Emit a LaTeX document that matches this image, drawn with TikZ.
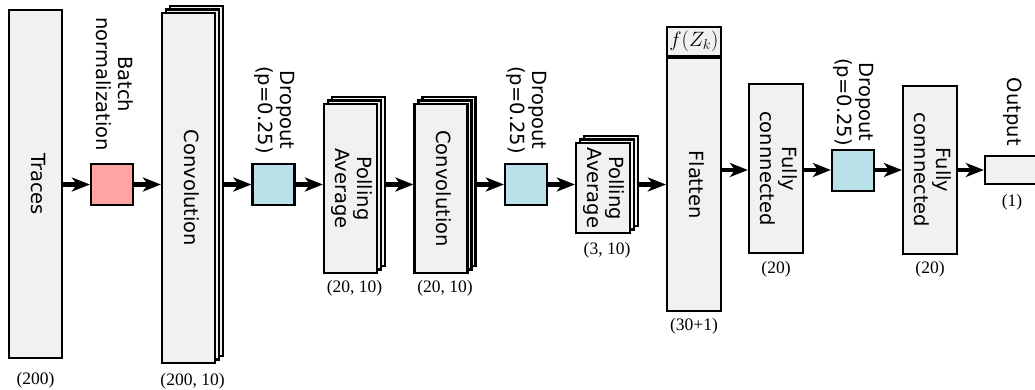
\documentclass[tikz,border=0pt]{standalone}
\usepackage{fontspec}
\setsansfont{DejaVu Sans}
\newfontfamily\dimfont{Liberation Serif}
\usetikzlibrary{positioning,arrows.meta,shadows}
\definecolor{boxgray}{RGB}{241,241,241}
\definecolor{bnpink}{RGB}{255,163,163}
\definecolor{dropblue}{RGB}{185,226,232}
\newcommand{\vtext}[1]{\rotatebox{-90}{\begin{tabular}{@{}c@{}}#1\end{tabular}}}
\tikzset{
  layer/.style={draw, line width=2.2pt, fill=boxgray, inner sep=0pt,
    font=\sffamily\fontsize{19.5}{22}\selectfont},
  every shadow/.style={draw=black, fill=boxgray, line width=2.2pt, opacity=1},
  stack/.style={layer,
    copy shadow={shadow xshift=8pt,shadow yshift=7pt},
    copy shadow={shadow xshift=4pt,shadow yshift=3.5pt}},
  square/.style={layer, minimum width=42pt, minimum height=41pt},
  toplbl/.style={inner sep=0pt, font=\sffamily\fontsize{19.5}{22}\selectfont},
  dimlbl/.style={inner sep=0pt, font=\dimfont\fontsize{17.5}{20}\selectfont},
  arr/.style={line width=4.5pt, -{Stealth[length=18pt,width=14pt,inset=5pt]}},
}
\begin{document}
\begin{tikzpicture}[x=1pt,y=-1pt]
\useasboundingbox (0,0) rectangle (1035,390);
\coordinate (row1) at (0,184.5);
\coordinate (row2) at (0,170);
% layers
\node[layer, minimum width=53pt, minimum height=348pt] (trace) at (35.5,184) {\vtext{Traces}};
\node[square, fill=bnpink] (bn) at (112,184.5) {};
\node[stack, minimum width=53pt, minimum height=350pt] (conv1) at (188.5,188) {\vtext{Convolution}};
\node[square, fill=dropblue] (drop1) at (273.5,184.5) {};
\node[stack, minimum width=53pt, minimum height=169pt] (pool1) at (350.5,188.5) {\vtext{Polling\\Average}};
\node[stack, minimum width=53pt, minimum height=169pt] (conv2) at (441,188.5) {\vtext{Convolution}};
\node[square, fill=dropblue] (drop2) at (526,184.5) {};
\node[stack, minimum width=54pt, minimum height=90pt] (pool2) at (603,188) {\vtext{Polling\\Average}};
\node[layer, minimum width=54pt, minimum height=253pt] (flat) at (694,184.5) {\vtext{Flatten}};
\node[layer, minimum width=54pt, minimum height=29pt, anchor=south] (fz) at (flat.north) {$f(Z_k)$};
\node[layer, minimum width=54pt, minimum height=169pt] (fc1) at (776,168.5) {\vtext{Fully\\connnected}};
\node[square, fill=dropblue] (drop3) at (853,170.5) {};
\node[layer, minimum width=54pt, minimum height=168pt] (fc2) at (930,170) {\vtext{Fully\\connnected}};
\node[layer, minimum width=54pt, minimum height=28pt] (out) at (1012,170) {};
% labels above
\node[toplbl, above=12pt of bn] (bnlbl) {\vtext{Batch\\normalization}};
\node[toplbl, above=9pt of drop1] (drop1lbl) {\vtext{Dropout\\(p=0.25)}};
\node[toplbl, above=9pt of drop2] (drop2lbl) {\vtext{Dropout\\(p=0.25)}};
\node[toplbl, above=3pt of drop3] (drop3lbl) {\vtext{Dropout\\(p=0.25)}};
\node[toplbl, above=9pt of out] (outlbl) {\vtext{Output}};
% sizes
\node[dimlbl, below=13pt of trace] (tracedim) {(200)};
\node[dimlbl, below=9pt of conv1, xshift=4pt] (conv1dim) {(200, 10)};
\node[dimlbl, below=6pt of pool1, xshift=4pt] (pool1dim) {(20, 10)};
\node[dimlbl, below=6pt of conv2, xshift=4pt] (conv2dim) {(20, 10)};
\node[dimlbl, below=8pt of pool2, xshift=4pt] (pool2dim) {(3, 10)};
\node[dimlbl, below=6pt of flat] (flatdim) {(30+1)};
\node[dimlbl, below=7pt of fc1] (fc1dim) {(20)};
\node[dimlbl, below=6pt of fc2] (fc2dim) {(20)};
\node[dimlbl, below=9pt of out] (outdim) {(1)};
% connectors
\draw[arr] (trace.east |- row1) -- (bn.west |- row1);
\draw[arr] (bn.east |- row1) -- (conv1.west |- row1);
\draw[arr, shorten <=8pt] (conv1.east |- row1) -- (drop1.west |- row1);
\draw[arr] (drop1.east |- row1) -- (pool1.west |- row1);
\draw[arr, shorten <=8pt] (pool1.east |- row1) -- (conv2.west |- row1);
\draw[arr, shorten <=8pt] (conv2.east |- row1) -- (drop2.west |- row1);
\draw[arr] (drop2.east |- row1) -- (pool2.west |- row1);
\draw[arr, shorten <=8pt] (pool2.east |- row1) -- (flat.west |- row1);
\draw[arr] (flat.east |- row2) -- (fc1.west |- row2);
\draw[arr] (fc1.east |- row2) -- (drop3.west |- row2);
\draw[arr] (drop3.east |- row2) -- (fc2.west |- row2);
\draw[arr] (fc2.east |- row2) -- (out.west |- row2);
\end{tikzpicture}
\end{document}
